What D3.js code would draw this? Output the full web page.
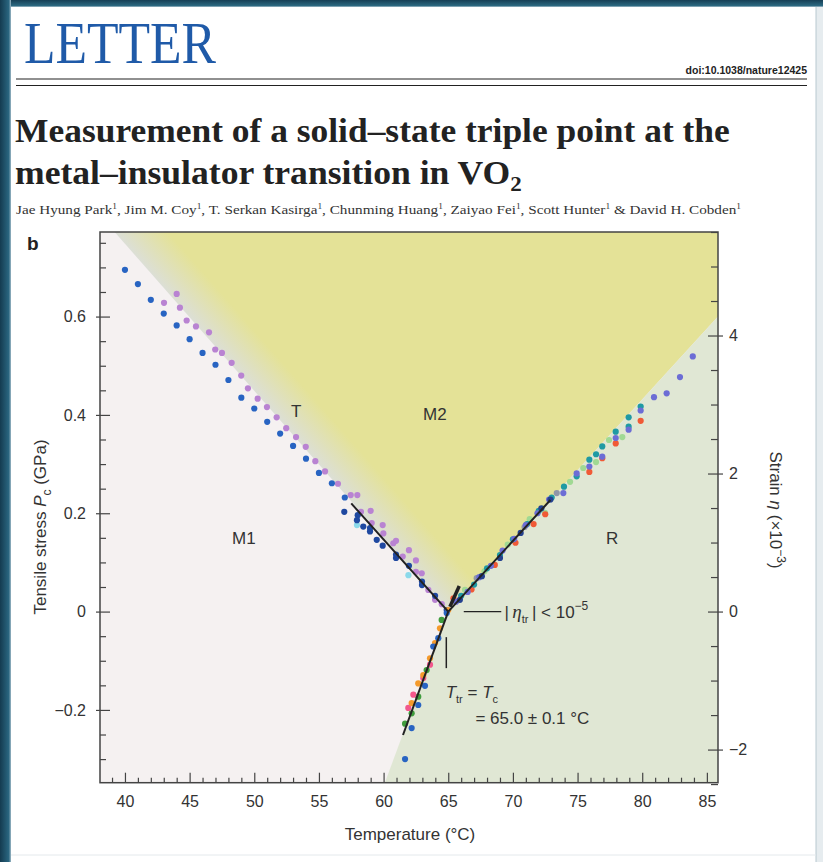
<!DOCTYPE html>
<meta charset="utf-8">
<style>
body { margin: 0; background: #fff; }
svg text { font-family: "Liberation Sans", Arial, sans-serif; fill: #333; }
.serif { font-family: "Liberation Serif", "Times New Roman", serif; }
.axis text { font-size: 16px; fill: #333; }
.axis line { stroke: #444; stroke-width: 1.2px; }
.axis path { display: none; }
.fit { fill: none; stroke: #222; stroke-width: 2px; }
</style>
<svg class="page" width="823" height="862"></svg>
<script src="https://d3js.org/d3.v7.min.js"></script>
<script>
// ---- data (temperature in °C, tensile stress in GPa) ----
var blueM1 = [[40,0.695],[41,0.666],[42,0.634],[43,0.606],[44,0.582],[45,0.554],[46,0.526],[47,0.502],[48,0.471],[49,0.435],[50,0.413],[51,0.386],[52,0.362],[53,0.337],[54,0.311],[55,0.282],[56,0.261],[57,0.232]];
var navyM1 = [[56.96,0.203],[57.94,0.186],[58.0,0.196],[58.43,0.173],[58.95,0.163],[58.95,0.170],[59.47,0.146],[59.93,0.134],[60.96,0.109],[60.96,0.116],[61.96,0.093],[62.97,0.061],[62.97,0.054],[63.98,0.032],[64.88,0.003]];
var purpleM1 = [[43.02,0.628],[44.0,0.646],[44.25,0.618],[44.77,0.592],[45.49,0.580],[46.5,0.568],[46.98,0.533],[47.5,0.526],[48.25,0.506],[48.99,0.480],[49.51,0.454],[50.26,0.433],[50.98,0.416],[51.73,0.395],[52.47,0.373],[53.23,0.355],[53.98,0.335],[54.72,0.306],[55.47,0.285],[56.47,0.260],[57.46,0.237],[57.97,0.237],[58.25,0.203],[59.0,0.205],[59.08,0.180],[59.93,0.176],[59.98,0.159],[60.75,0.139],[60.96,0.144],[61.48,0.112],[61.96,0.125],[62.5,0.104],[62.5,0.081],[62.95,0.078],[63.46,0.044],[63.98,0.024],[64.5,0.015]];
var cyanM1 = [[57.94,0.176],[61.92,0.074]];

var violetR = [[65.6,0.020],[66.5,0.040],[67.4,0.070],[68.3,0.093],[69.2,0.124],[70.1,0.148],[71.0,0.176],[71.9,0.200],[72.8,0.228],[73.9,0.241],[74.93,0.281],[75.91,0.295],[76.91,0.315],[77.95,0.353],[78.95,0.370],[79.88,0.409],[80.91,0.436],[81.89,0.444],[82.92,0.477],[83.91,0.519]];
var tealR = [[66.0,0.032],[67.0,0.055],[68.0,0.088],[69.0,0.115],[70.0,0.147],[71.1,0.178],[72.0,0.205],[73.0,0.232],[73.95,0.254],[74.93,0.275],[75.91,0.309],[76.43,0.320],[76.91,0.336],[77.95,0.366],[78.95,0.376],[78.95,0.395],[79.88,0.417]];
var redR = [[65.4,0.027],[66.8,0.045],[68.6,0.095],[70.2,0.140],[71.6,0.178],[72.5,0.198],[75.91,0.284],[76.91,0.312],[77.95,0.342],[79.88,0.388]];
var greenR = [[66.3,0.044],[67.8,0.082],[69.6,0.136],[71.3,0.188],[72.48,0.201],[74.42,0.264],[75.44,0.292],[76.43,0.304],[77.43,0.349],[78.46,0.355]];
var navyR = [[65.9,0.024],[67.6,0.072],[69.0,0.109],[70.6,0.160],[72.2,0.210],[72.9,0.228]];
var greyR = [[67.2,0.068],[70.9,0.172],[73.39,0.241]];

var orangeL = [[65.0,0.003],[64.36,-0.034],[63.98,-0.064],[63.59,-0.095],[63.07,-0.129],[62.68,-0.146],[62.17,-0.186]];
var pinkL = [[63.59,-0.108],[63.07,-0.135],[62.30,-0.169],[61.91,-0.196]];
var greenL = [[64.49,-0.017],[63.33,-0.119],[62.68,-0.173],[62.17,-0.207],[61.66,-0.228]];
var blueL = [[64.88,-0.003],[64.23,-0.054],[63.84,-0.071],[63.20,-0.151],[62.68,-0.190],[62.17,-0.237],[61.66,-0.300]];

// fitted phase boundaries and the short M2 segment at the triple point
var fitLines = [[[57.5,0.220],[65,0]], [[65,0],[72.9,0.227]], [[65,0],[61.5,-0.251]]];
var m2Stub = [[65.13,0.010],[65.85,0.052]];

// phase-region corners
var tripleT = 65, tripleP = 0;
var m1Top = [39.2, 0.772];       // M1 / T edge at the top of the plot
var rRight = [85.86, 0.600];     // R / M2 edge at the right side
var rBottom = [60.1, -0.348];    // M1 / R edge at the bottom

var xTicks = [40,45,50,55,60,65,70,75,80,85];
var yTicks = [-0.2,0,0.2,0.4,0.6];
var strainTicks = [-2,0,2,4];

var xDom = [38.07, 85.86], yDom = [-0.348, 0.772], strainDom = [-2.48, 5.50];

var series = [
  {d: purpleM1, c: "#b983d2"}, {d: cyanM1, c: "#8bd9ea"}, {d: blueM1, c: "#2864c2"}, {d: navyM1, c: "#1f48a0"},
  {d: greyR, c: "#9096a8"}, {d: greenR, c: "#a0d993"}, {d: redR, c: "#f05a36"}, {d: tealR, c: "#1f9aa3"},
  {d: violetR, c: "#6c6dd5"}, {d: navyR, c: "#24418f"},
  {d: greenL, c: "#3f9c3d"}, {d: pinkL, c: "#f2588c"}, {d: orangeL, c: "#f49a2c"}, {d: blueL, c: "#2864c2"}
];

var svg = d3.select(".page");

// ---- page backdrop ----
var defs = svg.append("defs");
var lg = defs.append("linearGradient").attr("id", "edgeL").attr("x1", 0).attr("x2", 1);
lg.append("stop").attr("offset", 0).attr("stop-color", "#143b50");
lg.append("stop").attr("offset", 0.8).attr("stop-color", "#2a6680");
lg.append("stop").attr("offset", 1).attr("stop-color", "#9fb9c6");
var tg = defs.append("linearGradient").attr("id", "edgeT").attr("x1", 0).attr("x2", 0).attr("y1", 0).attr("y2", 1);
tg.append("stop").attr("offset", 0).attr("stop-color", "#163f55");
tg.append("stop").attr("offset", 0.8).attr("stop-color", "#2b6880");
tg.append("stop").attr("offset", 1).attr("stop-color", "#a8c0cc");
svg.append("rect").attr("width", 823).attr("height", 862).attr("fill", "#fff");
svg.append("rect").attr("x", 0).attr("y", 0).attr("width", 823).attr("height", 7).attr("fill", "url(#edgeT)");
svg.append("rect").attr("x", 0).attr("y", 0).attr("width", 11).attr("height", 862).attr("fill", "url(#edgeL)");
svg.append("rect").attr("x", 816).attr("y", 7).attr("width", 7).attr("height", 855).attr("fill", "#e6ecef");
svg.append("line").attr("x1", 816).attr("x2", 816).attr("y1", 7).attr("y2", 862).attr("stroke", "#b8c8d0");
svg.append("line").attr("x1", 11).attr("x2", 816).attr("y1", 855).attr("y2", 855).attr("stroke", "#e4e9ec");

// ---- header ----
svg.append("text").attr("class", "serif").attr("x", 24).attr("y", 63)
  .attr("textLength", 192).attr("lengthAdjust", "spacingAndGlyphs")
  .style("font-size", "60px").style("fill", "#1f5aa8").text("LETTER");
svg.append("text").attr("x", 807).attr("y", 74).attr("text-anchor", "end")
  .style("font-size", "10.5px").style("font-weight", "bold").style("fill", "#222").text("doi:10.1038/nature12425");
svg.append("line").attr("x1", 16).attr("x2", 807).attr("y1", 79).attr("y2", 79).attr("stroke", "#222").attr("stroke-width", 1.2);
svg.append("line").attr("x1", 16).attr("x2", 807).attr("y1", 85.5).attr("y2", 85.5).attr("stroke", "#222").attr("stroke-width", 1.2);

// title: each line squeezed horizontally to the width measured in the reference
function titleLine(ty, width, parts) {
  var gg = svg.append("g");
  var t = gg.append("text").attr("class", "serif").attr("x", 0).attr("y", ty)
    .style("font-size", "34px").style("font-weight", "bold").style("fill", "#222");
  t.append("tspan").text(parts[0]);
  if (parts[1]) t.append("tspan").attr("dy", 7).style("font-size", "22px").text(parts[1]);
  var k = width / t.node().getComputedTextLength();
  gg.attr("transform", "translate(15,0) scale(" + k + ",1)");
}
titleLine(142, 715, ["Measurement of a solid\u2013state triple point at the"]);
titleLine(184, 507, ["metal\u2013insulator transition in VO", "2"]);

var authors = ["Jae Hyung Park", "Jim M. Coy", "T. Serkan Kasirga", "Chunming Huang", "Zaiyao Fei", "Scott Hunter", "David H. Cobden"];
var au = svg.append("text").attr("class", "serif").attr("x", 16).attr("y", 214)
  .attr("textLength", 725).attr("lengthAdjust", "spacingAndGlyphs")
  .style("font-size", "13px").style("fill", "#333");
authors.forEach(function(a, i) {
  var sep = i === 0 ? "" : (i === authors.length - 1 ? " & " : ", ");
  au.append("tspan").attr("dy", i === 0 ? 0 : 5).text(sep + a);
  au.append("tspan").attr("dy", -5).style("font-size", "8px").text("1");
});

svg.append("text").attr("x", 27).attr("y", 250).style("font-size", "19px").style("font-weight", "bold").style("fill", "#222").text("b");

// ---- chart ----
var x = d3.scaleLinear().domain(xDom).range([100, 718]);
var y = d3.scaleLinear().domain(yDom).range([782.7, 232]);
var yS = d3.scaleLinear().domain(strainDom).range([782.7, 232]);

defs.append("clipPath").attr("id", "plot").append("rect")
  .attr("x", x(xDom[0])).attr("y", y(yDom[1])).attr("width", x(xDom[1]) - x(xDom[0])).attr("height", y(yDom[0]) - y(yDom[1]));

var g = svg.append("g").attr("clip-path", "url(#plot)");
var pt = function(d) { return [x(d[0]), y(d[1])]; };
var poly = d3.line().x(function(d) { return x(d[0]); }).y(function(d) { return y(d[1]); });

// T band gradient, perpendicular to the M1/M2 edge
var p0 = pt([tripleT, tripleP]), p1 = pt(m1Top);
var dx = p1[0] - p0[0], dy = p1[1] - p0[1], len = Math.sqrt(dx * dx + dy * dy);
var nx = -dy / len, ny = dx / len;
var bg = defs.append("linearGradient").attr("id", "tband").attr("gradientUnits", "userSpaceOnUse")
  .attr("x1", p0[0]).attr("y1", p0[1]).attr("x2", p0[0] + nx * 40).attr("y2", p0[1] + ny * 40);
bg.append("stop").attr("offset", 0).attr("stop-color", "#dcdfd6");
bg.append("stop").attr("offset", 1).attr("stop-color", "#e4e297");

g.append("rect").attr("x", 100).attr("y", 232).attr("width", 618).attr("height", 551).attr("fill", "#f5f1f1");
g.append("path").attr("d", poly([[tripleT, tripleP], m1Top, [xDom[1], yDom[1]], rRight]) + "Z").attr("fill", "url(#tband)");
g.append("path").attr("d", poly([rBottom, [tripleT, tripleP], rRight, [xDom[1], yDom[0]]]) + "Z").attr("fill", "#e0e7d4");

series.forEach(function(s) {
  g.selectAll(null).data(s.d).enter().append("circle")
    .attr("cx", function(d) { return x(d[0]); })
    .attr("cy", function(d) { return y(d[1]); })
    .attr("r", 3.1).attr("fill", s.c);
});

fitLines.forEach(function(l) { g.append("path").attr("class", "fit").attr("d", poly(l)); });
g.append("path").attr("class", "fit").attr("d", poly(m2Stub)).style("stroke-width", 3.5);

// ---- axes ----
var minorX = d3.range(39, 86).filter(function(v) { return v % 5 !== 0; });
var minorY = d3.range(-0.3, 0.76, 0.05).filter(function(v) { return Math.abs(Math.round(v * 20) % 4) !== 0; });
var minorS = d3.range(-2.5, 5.6, 0.5).filter(function(v) { return v % 2 !== 0; });

svg.append("g").attr("class", "axis").attr("transform", "translate(0,782.7)")
  .call(d3.axisBottom(x).tickValues(xTicks).tickSize(-10).tickPadding(13).tickFormat(d3.format("d")));
svg.append("g").attr("class", "axis").attr("transform", "translate(0,782.7)")
  .call(d3.axisBottom(x).tickValues(minorX).tickSize(-5).tickFormat(""));

svg.append("g").attr("class", "axis").attr("transform", "translate(100,0)")
  .call(d3.axisLeft(y).tickValues(yTicks).tickSize(-10).tickPadding(14)
    .tickFormat(function(d) { return d === 0 ? "0" : d3.format(".1f")(d).replace("-", "\u2212"); }));
svg.append("g").attr("class", "axis").attr("transform", "translate(100,0)")
  .call(d3.axisLeft(y).tickValues(yTicks).tickSize(4).tickFormat(""));
svg.append("g").attr("class", "axis").attr("transform", "translate(100,0)")
  .call(d3.axisLeft(y).tickValues(minorY).tickSize(-6).tickFormat(""));

svg.append("g").attr("class", "axis").attr("transform", "translate(718,0)")
  .call(d3.axisRight(yS).tickValues(strainTicks).tickSize(-10).tickPadding(11)
    .tickFormat(function(d) { return String(d).replace("-", "\u2212"); }));
svg.append("g").attr("class", "axis").attr("transform", "translate(718,0)")
  .call(d3.axisRight(yS).tickValues(strainTicks).tickSize(5).tickFormat(""));
svg.append("g").attr("class", "axis").attr("transform", "translate(718,0)")
  .call(d3.axisRight(yS).tickValues(minorS).tickSize(-7).tickFormat(""));

svg.append("rect").attr("x", 100).attr("y", 232).attr("width", 618).attr("height", 550.7)
  .attr("fill", "none").attr("stroke", "#444").attr("stroke-width", 1.5);

// ---- labels ----
var lab = function(tx, ty, s) {
  return svg.append("text").attr("x", tx).attr("y", ty).style("font-size", "17px").text(s);
};
lab(291, 417, "T");
lab(423, 420, "M2");
lab(232, 544, "M1");
lab(606, 544, "R");

var xl = svg.append("text").attr("x", 410).attr("y", 840).attr("text-anchor", "middle").style("font-size", "17px");
xl.text("Temperature (\u00b0C)");

var yl = svg.append("text").attr("transform", "translate(46,527) rotate(-90)").attr("text-anchor", "middle").style("font-size", "17px");
yl.append("tspan").text("Tensile stress ");
yl.append("tspan").style("font-style", "italic").text("P");
yl.append("tspan").attr("dy", 5).style("font-size", "12px").text("c");
yl.append("tspan").attr("dy", -5).text(" (GPa)");

var yr = svg.append("text").attr("transform", "translate(770,510) rotate(90)").attr("text-anchor", "middle").style("font-size", "17px");
yr.append("tspan").text("Strain ");
yr.append("tspan").style("font-style", "italic").text("\u03b7");
yr.append("tspan").text(" (\u00d710");
yr.append("tspan").attr("dy", -7).style("font-size", "12px").text("\u22123");
yr.append("tspan").attr("dy", 7).text(")");

// triple-point annotations
svg.append("line").attr("x1", x(66.2)).attr("x2", x(69.1)).attr("y1", y(0)).attr("y2", y(0)).attr("stroke", "#222").attr("stroke-width", 1.3);
var ann = svg.append("text").attr("x", x(69.35)).attr("y", y(0) + 6).style("font-size", "17px");
ann.append("tspan").text("|\u2009");
ann.append("tspan").attr("class", "serif").style("font-style", "italic").style("font-size", "19px").text("\u03b7");
ann.append("tspan").attr("dy", 5).style("font-size", "11px").text("tr");
ann.append("tspan").attr("dy", -5).text("\u2009| < 10");
ann.append("tspan").attr("dy", -8).style("font-size", "12px").text("\u22125");

svg.append("line").attr("x1", x(64.85)).attr("x2", x(64.85)).attr("y1", y(-0.052)).attr("y2", y(-0.115)).attr("stroke", "#222").attr("stroke-width", 1.5);
var tt = svg.append("text").attr("x", x(64.8)).attr("y", y(-0.175)).style("font-size", "17px");
tt.append("tspan").style("font-style", "italic").text("T");
tt.append("tspan").attr("dy", 5).style("font-size", "11px").text("tr");
tt.append("tspan").attr("dy", -5).text(" = ");
tt.append("tspan").style("font-style", "italic").text("T");
tt.append("tspan").attr("dy", 5).style("font-size", "11px").text("c");
svg.append("text").attr("x", x(67.1)).attr("y", y(-0.228)).style("font-size", "17px").text("= 65.0 \u00b1 0.1 \u00b0C");
</script>
